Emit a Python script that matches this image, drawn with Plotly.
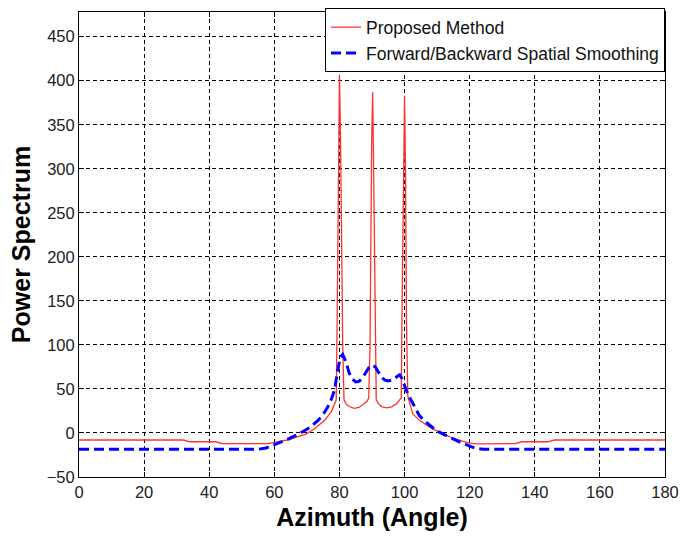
import plotly.graph_objects as go

# Azimuth angles (degrees) and spectrum values for each estimator
proposed_angle = [0, 32, 34, 42, 44, 58, 60.3, 62, 64.5, 67, 69.5, 72.5, 75.5, 77.5,
                  79.0, 79.3, 79.7, 80.0, 80.3, 80.6, 81.0, 81.4, 82, 83, 84.5, 86,
                  87.5, 88.5, 89.0, 89.4, 89.9, 90.2, 90.5, 90.9, 91.3, 92, 93, 94.5,
                  96, 97.5, 98.5, 99.0, 99.2, 99.6, 100.0, 100.3, 100.6, 101.0, 102.5,
                  104.5, 107.5, 110.5, 114.5, 118, 120, 122, 134, 136, 144, 146, 180]
proposed_power = [-8, -8, -10, -10, -12, -12, -10.4, -9.2, -7.7, -4.5, -1.5, 5, 14.6, 24,
                  37.7, 129, 315, 407, 345, 225, 101, 38, 33, 30, 28, 29,
                  33, 36, 40, 101, 330, 387, 300, 131, 38, 33, 30, 28.5,
                  29.5, 33, 37, 40, 130, 296, 383, 296, 124, 42, 22,
                  14.6, 7, 1.2, -5.4, -9.5, -11.5, -12.5, -12, -10, -10, -8, -8]

fbss_angle = [0, 55, 57.5, 60.3, 62.5, 64.5, 67, 69.5, 71.5, 73.5, 75, 76.5, 77.5, 78.5,
              79.5, 80.3, 81.0, 82, 83, 84, 85, 86, 87, 88, 89, 90, 91, 92, 93, 94, 95,
              96, 97, 98, 98.5, 99.2, 100.3, 101, 102.5, 103.5, 104.5, 106, 107.5, 109,
              110.5, 112.5, 114.5, 117, 119.5, 121.5, 124, 180]
fbss_power = [-18.5, -18.5, -17, -13, -9.5, -6.5, -2, 3, 8, 14.6, 21, 30, 38, 49,
              72, 86, 89, 81, 68, 61, 58, 58.5, 62, 68, 74, 77, 75, 69, 63, 60, 59,
              60, 62, 65, 66, 62, 50, 44, 34, 27, 20, 14, 9, 5,
              1.2, -2.5, -6.5, -10.5, -14, -17, -18.5, -18.5]

x_ticks = list(range(0, 181, 20))
y_ticks = list(range(-50, 451, 50))

fig = go.Figure()
fig.add_trace(go.Scatter(
    x=proposed_angle, y=proposed_power, mode="lines",
    name="Proposed Method",
    line=dict(color="#ff3030", width=1.3),
))
fig.add_trace(go.Scatter(
    x=fbss_angle, y=fbss_power, mode="lines",
    name="Forward/Backward Spatial Smoothing",
    line=dict(color="#0000ff", width=3, dash="10px,5px"),
))

axis_common = dict(
    showline=True, linecolor="black", linewidth=1, mirror="ticks",
    ticks="inside", ticklen=5, tickcolor="black",
    showgrid=True, gridcolor="black", gridwidth=1, griddash="4px,3px",
    zeroline=False,
    tickfont=dict(family="Arial, Liberation Sans, sans-serif", size=16.5, color="#222"),
)

fig.update_xaxes(
    range=[0, 180], tickvals=x_ticks,
    title=dict(text="<b>Azimuth (Angle)</b>", standoff=8,
               font=dict(family="Arial, Liberation Sans, sans-serif", size=25, color="black")),
    **axis_common,
)
fig.update_yaxes(
    range=[-50, 478], tickvals=y_ticks,
    title=dict(text="<b>Power Spectrum</b>", standoff=8,
               font=dict(family="Arial, Liberation Sans, sans-serif", size=25, color="black")),
    **axis_common,
)

fig.update_layout(
    width=687, height=538,
    margin=dict(l=79, r=14, t=8, b=61),
    plot_bgcolor="white", paper_bgcolor="white",
    showlegend=True,
    legend=dict(
        x=1.0, y=1.008, xanchor="right", yanchor="top",
        bgcolor="white", bordercolor="black", borderwidth=1,
        font=dict(family="Arial, Liberation Sans, sans-serif", size=17.5, color="#111"),
        tracegroupgap=0, itemwidth=30,
    ),
)

fig.write_html("out.html")
